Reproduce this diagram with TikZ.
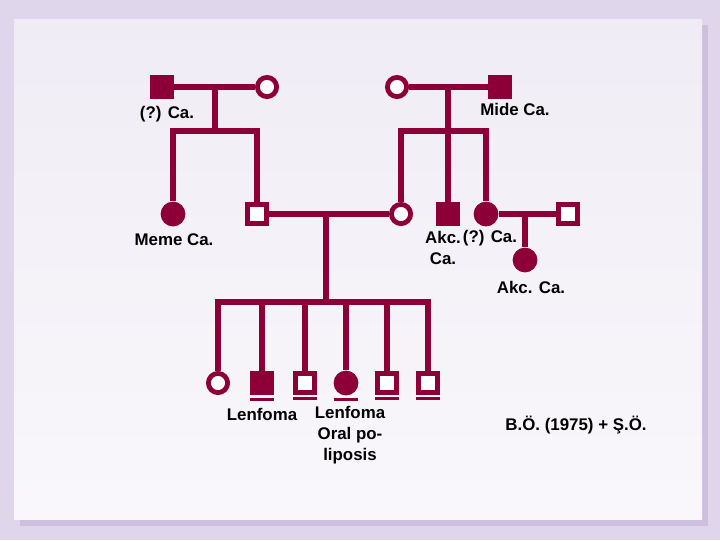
\documentclass[tikz,border=0pt]{standalone}
\usepackage{fontspec}
\setmainfont{Liberation Sans}
\usepackage{tikz}
\definecolor{pedred}{RGB}{140,0,55}
\definecolor{bglav}{RGB}{224,214,235}
\definecolor{shadelav}{RGB}{205,192,222}
\definecolor{panellav}{RGB}{240,236,245}

\begin{document}
\begin{tikzpicture}[x=0.025cm, y=-0.025cm,
    line/.style={pedred, line width=0.16cm},
    male/.style={rectangle, draw=pedred, fill=white, line width=0.12cm,
                 minimum size=0.47cm, inner sep=0pt},
    malefill/.style={rectangle, fill=pedred, minimum size=0.6cm, inner sep=0pt},
    female/.style={circle, draw=pedred, fill=white, line width=0.12cm,
                   minimum size=0.48cm, inner sep=0pt},
    femalefill/.style={circle, fill=pedred, minimum size=0.62cm, inner sep=0pt},
    lbl/.style={font=\fontsize{12}{15}\selectfont\bfseries, align=center, inner sep=0pt},
    bar/.style={pedred, line width=0.08cm}
  ]
    % Background
    \fill[bglav] (0,0) rectangle (720,540);
    \fill[shadelav] (20,25) rectangle (708,526);
    \shade[top color=panellav, bottom color=white!60!panellav] (14,19) rectangle (702,519);

    % First generation
    \node[malefill] (gf1) at (162,87) {};
    \node[female] (gm1) at (267,87) {};
    \node[female] (gm2) at (397,87) {};
    \node[malefill] (gf2) at (500,87) {};
    \coordinate (j1) at (215,87);
    \coordinate (s1) at (215,131);
    \coordinate (j2) at (448,87);
    \coordinate (s2) at (448,131);

    % Second generation
    \node[femalefill] (aunt) at (173,214) {};
    \node[male] (father) at (257,214) {};
    \node[female] (mother) at (401,214) {};
    \node[malefill] (uncle) at (448,214) {};
    \node[femalefill] (aunt2) at (486,214) {};
    \node[male] (inlaw) at (568,214) {};
    \node[femalefill] (cousin) at (525,260) {};
    \coordinate (j3) at (326,214);
    \coordinate (s3) at (326,302);
    \coordinate (j4) at (525,214);

    % Third generation
    \node[female] (c1) at (218,383) {};
    \node[malefill] (c2) at (262,383) {};
    \node[male] (c3) at (305,383) {};
    \node[femalefill] (c4) at (346,383) {};
    \node[male] (c5) at (387,383) {};
    \node[male] (c6) at (428,383) {};

    % Lines
    \draw[line] (gf1) -- (gm1);
    \draw[line] (j1) -- (s1);
    \draw[line] (aunt) |- (s1) -| (father);
    \draw[line] (gm2) -- (gf2);
    \draw[line] (j2) -- (s2);
    \draw[line] (mother) |- (s2) -| (aunt2);
    \draw[line] (s2) -- (uncle);
    \draw[line] (father) -- (mother);
    \draw[line] (j3) -- (s3);
    \draw[line] (aunt2) -- (inlaw);
    \draw[line] (j4) -- (cousin);
    \draw[line] (c1) |- (s3) -| (c6);
    \foreach \k in {c2,c3,c4,c5}
      \draw[line] (\k) -- (\k |- s3);
    \foreach \k in {c2,c3,c4,c5,c6}
      \draw[bar] ([xshift=-0.3cm]\k.south) ++(0,4) -- ++(24,0);

    % Labels
    \node[lbl] (lgf1) at (167,114) {(?) Ca.};
    \node[lbl] (lgf2) at (515,109) {Mide Ca.};
    \node[lbl] (launt) at (174,240) {Meme Ca.};
    \node[lbl] (luncle) at (443,248) {Akc.\\Ca.};
    \node[lbl] (launt2) at (490,238) {(?) Ca.};
    \node[lbl] (lcousin) at (531,287) {Akc. Ca.};
    \node[lbl] (lc2) at (262,414) {Lenfoma};
    \node[lbl] (lc4) at (350,435) {Lenfoma\\Oral po-\\liposis};
    \node[lbl] (lnote) at (576,425) {B.Ö. (1975) + Ş.Ö.};
\end{tikzpicture}
\end{document}
